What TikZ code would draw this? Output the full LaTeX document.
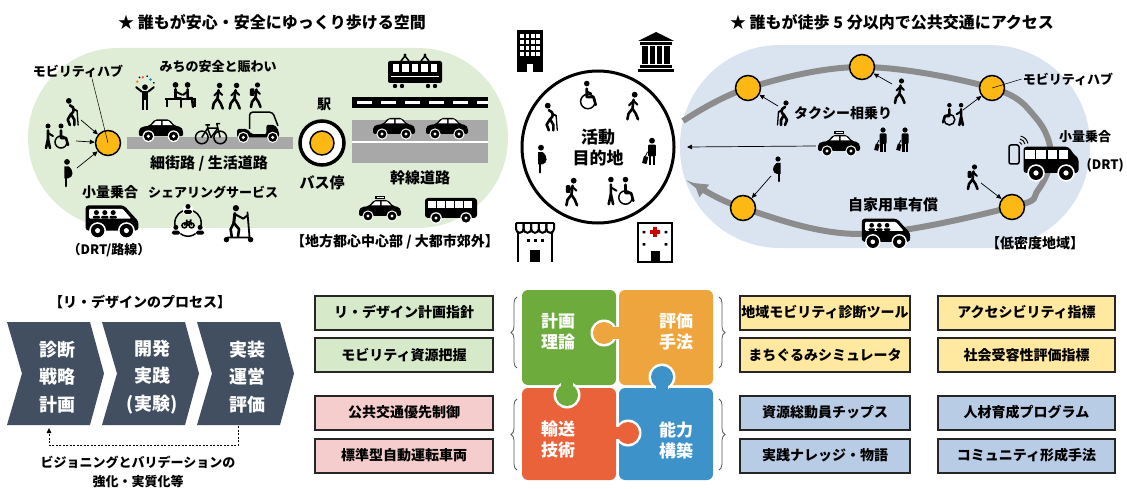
\documentclass[tikz,border=0pt]{standalone}
\usepackage{fontspec}
\setmainfont{Noto Sans CJK JP}
\usepackage{tikz}
\usetikzlibrary{arrows.meta,decorations.pathreplacing,positioning}

\newcommand{\fsz}[1]{\fontsize{#1}{#1}\selectfont}

\definecolor{walkgreen}{HTML}{E0EDD6}
\definecolor{ruralblue}{HTML}{DAE4F1}
\definecolor{roadgray}{HTML}{8C8C8C}
\definecolor{lanegray}{HTML}{A8A8A8}
\definecolor{hubamber}{HTML}{FDB813}
\definecolor{stepslate}{HTML}{424F61}
\definecolor{pzgreen}{HTML}{6CAB3C}
\definecolor{pzorange}{HTML}{EFA53E}
\definecolor{pzred}{HTML}{E9623A}
\definecolor{pzblue}{HTML}{3C92C9}
\definecolor{tagGreen}{HTML}{D6E9C9}
\definecolor{tagPink}{HTML}{F6CDCD}
\definecolor{tagYellow}{HTML}{FFE8A0}
\definecolor{tagBlue}{HTML}{B9CCE6}

\tikzset{
  ink/.style={line width=2.6pt, line cap=round, line join=round},
  lbl/.style={font=\bfseries\fsz{13}, inner sep=1pt},
  hub/.style={circle, draw=black, line width=1.5pt, fill=hubamber, minimum size=25pt, inner sep=0pt},
  hint/.style={-{Triangle[length=5pt,width=4.5pt]}, line width=0.7pt},
  tag/.style={draw=black!85, line width=2pt, minimum height=34pt, inner sep=0pt, font=\bfseries\fsz{14}},
  piece/.style={font=\bfseries\fontsize{17}{21}\selectfont, text=white, align=center},
  % --- pictograms (y grows downwards)
  pics/walker/.style={code={
    \fill (1.5,-11) circle (2.6);
    \draw[ink] (0.5,-6.5) -- (-0.5,1.5) -- (-4,6) -- (-5,11);
    \draw[ink] (-0.5,1.5) -- (2.5,6) -- (4.5,11);
    \draw[ink,line width=2pt] (0.5,-5.5) -- (-3.5,-1.5) (0.5,-5.5) -- (4,-2);
  }},
  pics/backpacker/.style={code={
    \pic {walker};
    \fill[rounded corners=1pt] (-5.5,-7) rectangle (-1.5,0);
  }},
  pics/elder/.style={code={
    \fill (-2,-11) circle (2.6);
    \draw[ink] (-1,-7) .. controls (4,-5) and (3,-1) .. (0,1) -- (-3,6) -- (-1,11);
    \draw[ink] (0,1) -- (3,6) -- (3,11);
    \draw[ink,line width=1.8pt] (1.5,-4) -- (5.5,-2);
    \draw[line width=1.3pt, line cap=round] (5.5,-2) -- (6.5,11);
  }},
  pics/wheelchair/.style={code={
    \fill (-2,-12) circle (2.5);
    \draw[ink] (-2,-7.5) -- (-2,0) -- (4,0) -- (6,7);
    \draw[ink,line width=2pt] (-2,-5) -- (2,-3);
    \draw[line width=1.5pt] (-1,4) circle (6.5);
  }},
  pics/pusher/.style={code={
    \fill (-9,-12) circle (2.5);
    \draw[ink] (-9,-7.5) -- (-9,1) -- (-11,10);
    \draw[ink] (-9,1) -- (-7,10);
    \draw[ink,line width=2pt] (-9,-5) -- (-4,-2);
    \fill (4,-12) circle (2.5);
    \draw[ink] (4,-7.5) -- (4,0) -- (9,0) -- (11,7);
    \draw[line width=1.5pt] (4,4) circle (6);
  }},
  pics/pregnant/.style={code={
    \fill (0,-11) circle (2.6);
    \fill (-2.5,-7) -- (1.5,-7) .. controls (6.5,-3) and (6,3) .. (1,4) -- (-2.5,4) -- cycle;
    \draw[ink] (-1,4) -- (-1,11);
  }},
  pics/traveller/.style={code={
    \fill (0,-11) circle (2.6);
    \fill[rounded corners=1pt] (-3.5,-7.5) rectangle (3.5,3);
    \draw[line width=2.4pt] (-1.7,3) -- (-1.7,11) (1.7,3) -- (1.7,11);
    \fill[rotate around={-15:(-6,6)}] (-8,3) rectangle (-4,9.5);
    \draw[line width=0.8pt] (-4,-1) -- (-6,3);
  }},
  pics/juggler/.style={code={
    \fill (0,-8) circle (2.6);
    \fill (-3,-4.5) rectangle (3,4);
    \draw[line width=2.2pt] (-1.5,4) -- (-1.5,13) (1.5,4) -- (1.5,13);
    \draw[ink,line width=2pt] (-3,-4) -- (-8,-8) (3,-4) -- (8,-8);
    \fill[red!70] (-2,-17) circle (1.2);
    \fill[cyan!70!blue] (5,-15) circle (1.2);
    \fill[orange] (-7,-13) circle (1.2);
    \fill (-5,-17) circle (0.9) (2,-18) circle (0.9) (8,-12) circle (0.9);
  }},
  pics/benchpair/.style={code={
    \fill (-5,-11) circle (2.6) (6,-11) circle (2.6);
    \draw[ink] (-5,-7) -- (-5,1) -- (0,1) -- (0,9);
    \draw[ink] (6,-7) -- (6,1) -- (10,1) -- (11,9);
    \draw[ink,line width=2pt] (-5,-5) -- (1,-2) (6,-5) -- (2,-2);
    \draw[line width=2.2pt] (-15,2) -- (14,2) (-13,2) -- (-13,9) (13,2) -- (13,9);
  }},
  pics/car/.style={code={
    \fill[rounded corners=2pt] (-21,5) -- (-21,-2) -- (-18,-4) -- (-11,-5) -- (-6,-11) -- (8,-11) -- (13,-5) -- (19,-4) -- (21,-1) -- (21,5) -- cycle;
    \fill[white] (-9,-5.5) -- (-5,-9.5) -- (0,-9.5) -- (0,-5.5) -- cycle;
    \fill[white] (1.5,-5.5) -- (1.5,-9.5) -- (7,-9.5) -- (11,-5.5) -- cycle;
    \foreach \u in {-12,12} {\fill[white] (\u,5) circle (5.6); \fill (\u,5) circle (4.4); \fill[white] (\u,5) circle (1.7);}
  }},
  pics/taxi/.style={code={
    \pic {car};
    \fill (-5,-15) rectangle (5,-11.5);
    \fill[white] (-3.5,-13.8) rectangle (3.5,-12.8);
  }},
  pics/minivan/.style={code={
    \fill[rounded corners=3pt] (-22,8) -- (-22,-13) -- (10,-13) -- (19,-3) -- (22,0) -- (22,8) -- cycle;
    \fill[white,rounded corners=1pt] (-19,-10) -- (9,-10) -- (16,-2) -- (-19,-2) -- cycle;
    \foreach \u in {-13,-6,1} {\fill (\u,-7) circle (2.1); \fill[rounded corners=1pt] (\u-3,-4.3) rectangle (\u+3,-2);}
    \foreach \u in {-12,12} {\fill[white] (\u,8) circle (7); \fill (\u,8) circle (5.6); \fill[white] (\u,8) circle (2.1);}
  }},
  pics/drtvan/.style={code={
    \fill[rounded corners=3pt] (-22,8) -- (-22,-13) -- (14,-13) -- (19,-6) -- (22,-4) -- (22,8) -- cycle;
    \foreach \u in {-17,-8,1,10} \fill[white] (\u-3.8,-10) rectangle (\u+3.8,-3);
    \foreach \u in {-12,12} {\fill[white] (\u,8) circle (7); \fill (\u,8) circle (5.6); \fill[white] (\u,8) circle (2.1);}
  }},
  pics/bus/.style={code={
    \fill[rounded corners=3pt] (-26,-12) rectangle (26,8);
    \foreach \c in {-19,-10,-1,8,17} \fill[white] (\c-3.6,-9) rectangle (\c+3.6,-2);
    \foreach \u in {-15,15} {\fill[white] (\u,8) circle (5.8); \fill (\u,8) circle (4.6); \fill[white] (\u,8) circle (1.7);}
  }},
  pics/tram/.style={code={
    \draw[line width=1.5pt, line join=round] (-14,-11) -- (-10,-16) -- (-6,-11) (6,-11) -- (10,-16) -- (14,-11);
    \fill (-10,-17) circle (1.6) (10,-17) circle (1.6);
    \fill[rounded corners=2pt] (-27,-11) rectangle (27,11);
    \foreach \c in {-19,-9.5,0,9.5,19} \fill[white] (\c-3.4,-8) rectangle (\c+3.4,0);
    \fill[white] (-24,4) rectangle (24,5.3);
    \foreach \c in {-20,-13,13,20} \fill (\c,14) circle (2.2);
  }},
  pics/bike/.style={code={
    \draw[line width=1.5pt] (-8,3) circle (5.5) (8,3) circle (5.5);
    \draw[line width=1.5pt, line join=round] (-8,3) -- (-3,-5) -- (6,-5) -- (8,3) (-3,-5) -- (0,3) -- (6,-5) (-5,-8) -- (-1,-8) (-3,-8) -- (-3,-5) (6,-5) -- (5,-9) -- (8,-9);
  }},
  pics/cart/.style={code={
    \draw[line width=1.5pt, rounded corners=3pt] (-8,0) -- (-8,-16) -- (14,-16) -- (19,-3);
    \fill[rounded corners=2pt] (-20,8) -- (-20,0) -- (-10,0) -- (-6,5) -- (8,5) -- (8,-4) -- (16,-4) -- (20,2) -- (20,8) -- cycle;
    \foreach \u in {-14,14} {\fill[white] (\u,8) circle (5.4); \fill (\u,8) circle (4.2); \fill[white] (\u,8) circle (1.6);}
  }},
  pics/scooter/.style={code={
    \fill (-2,-17) circle (3);
    \draw[ink,line width=3pt] (-3,-12) -- (-4,-3);
    \draw[ink] (-4,-3) -- (1,3) -- (0,10) (-4,-3) -- (-7,3) -- (-6,10);
    \draw[ink,line width=2pt] (-2.5,-11) -- (5,-7) -- (9,-10);
    \draw[line width=1.8pt, line cap=round] (9,-13) -- (11,11) (-10,11) -- (11,11);
    \fill (-11,13) circle (2.6) (12,13) circle (2.6);
  }},
  pics/sharering/.style={code={
    \draw[line width=1.5pt] (0,0) circle (12);
    \foreach \p in {(0,-12),(-11,7),(11,7)} {
      \fill[white] \p circle (5);
      \fill \p ++(0,-3) circle (2.3);
      \fill[rounded corners=1.5pt] \p ++(-3.6,0) rectangle ++(7.2,3.6);
    }
    \pic[scale=0.45] at (0,1) {bike};
  }},
  pics/office/.style={code={
    \fill (-13,-21) rectangle (13,21);
    \foreach \r in {-17,-11,-5,1} \foreach \c in {-8,-2.7,2.7,8} \fill[white] (\c-1.8,\r) rectangle (\c+1.8,\r+3.6);
    \fill[white] (-3,13) rectangle (3,21);
  }},
  pics/bank/.style={code={
    \fill (0,-20) -- (18,-11) -- (-18,-11) -- cycle;
    \fill (-16,-10) rectangle (16,-7);
    \foreach \c in {-11,-3.7,3.7,11} \fill (\c-2.6,-6) rectangle (\c+2.6,12);
    \fill (-16,13) rectangle (16,16);
    \fill (-18,17) rectangle (18,20);
  }},
  pics/store/.style={code={
    \draw[line width=2.2pt] (-19,-17) -- (19,-17);
    \foreach \c in {-15.2,-7.6,0,7.6,15.2}
      \draw[line width=2pt] (\c-3.8,-17) -- (\c-3.8,-11) arc[start angle=180, end angle=0, radius=3.8] -- (\c+3.8,-17);
    \draw[line width=2.2pt] (-17,-7) -- (-17,22) (17,-7) -- (17,22);
    \foreach \c in {-7,0,7} \fill (\c-1.5,-1) rectangle (\c+1.5,2);
    \fill (-5,10) rectangle (5,22);
  }},
  pics/hospital/.style={code={
    \draw[line width=2.2pt] (-17,-17) rectangle (17,22);
    \fill[red!80!black] (-1.8,-13) rectangle (1.8,-3) (-5,-9.8) rectangle (5,-6.2);
    \foreach \c in {-11,11} \fill (\c-1.3,-9) rectangle (\c+1.3,-6.5) (\c-1.3,3) rectangle (\c+1.3,5.5);
    \fill (-4.5,11) rectangle (4.5,22);
  }},
  pics/phone/.style={code={
    \draw[line width=1.5pt, rounded corners=2pt] (-5,-9) rectangle (5,10);
    \foreach \r in {3,6,9} \draw[line width=1pt] ([shift={(5,-9)}]-80:\r) arc[start angle=-80, end angle=-10, radius=\r];
  }},
}

\begin{document}
\begin{tikzpicture}[x=1pt,y=-1pt]
\useasboundingbox (0,0) rectangle (1127,489);

% ===== walkable centre area
\fill[walkgreen, rounded corners=90pt] (28,48) rectangle (508,228);
\node[font=\bfseries\fsz{16}] (walkTitle) at (272,22) {★ 誰もが安心・安全にゆっくり歩ける空間};

\fill[lanegray] (127,137) rectangle (293,149);
\node[hub] (hubL) at (108,143) {};
\node[lbl] (hubLlbl) at (78,71) {モビリティハブ};
\draw[line width=0.5pt] ([xshift=14pt]hubLlbl.south) -- (hubL.center);

\coordinate (elderL) at (71,113);
\coordinate (pairL) at (57,138);
\coordinate (motherL) at (67,174);
\pic[scale=1.1] at (elderL) {elder};
\pic at (pairL) {pusher};
\pic[scale=1.1] at (motherL) {pregnant};
\draw[hint] ([shift={(10,7)}]elderL) -- (hubL);
\draw[hint] ([shift={(19,3)}]pairL) -- (hubL);
\draw[hint] ([shift={(10,-6)}]motherL) -- (hubL);

\node[lbl] (streetLife) at (218,67) {みちの安全と賑わい};
\pic[scale=1.1] at (145,96) {juggler};
\pic[scale=1.1] at (181,97) {benchpair};
\pic[scale=1.05] at (218,97) {walker};
\pic[scale=1.05] at (235,97) {walker};
\pic[scale=1.1] at (256,96) {backpacker};
\pic[scale=1.05] at (161,131) {car};
\pic[scale=1.15] at (211,134) {bike};
\pic[scale=1.05] at (258,129) {cart};
\node[font=\bfseries\fsz{15}] (narrowSt) at (209,163) {細街路 / 生活道路};

% bus stop
\node[circle, draw, line width=3.5pt, fill=white, minimum size=44pt] (busStop) at (322,143) {};
\node[hub, minimum size=24pt] (busHub) at (busStop) {};
\node[font=\bfseries\fsz{14}] (station) at (324,104) {駅};
\node[font=\bfseries\fsz{15}] (busLbl) at (322,183) {バス停};

% trunk road
\pic at (415,72) {tram};
\fill (352,97) rectangle (488,108);
\draw[white, line width=3pt, dash pattern=on 15pt off 9pt] (357,102.5) -- (488,102.5);
\fill[lanegray] (352,120) rectangle (488,163);
\draw[white, line width=2pt] (352,142) -- (488,142);
\pic at (394,129) {car};
\pic at (447,129) {car};
\node[font=\bfseries\fsz{15}] (trunkLbl) at (420,178) {幹線道路};
\pic at (380,211) {taxi};
\pic at (451,210) {bus};
\node[font=\bfseries\fsz{14}] (cityLbl) at (395,242) {【地方都心中心部 / 大都市郊外】};

\node[font=\bfseries\fsz{14}] (sharedLbl) at (110,192) {小量乗合};
\pic[scale=1.2] at (112,221) {minivan};
\node[font=\bfseries\fsz{13}] (drtLine) at (109,250) {（DRT/路線）};
\node[font=\bfseries\fsz{13}] (shareLbl) at (213,192) {シェアリングサービス};
\pic[scale=1.1] at (188,223) {sharering};
\pic[scale=1.05] at (238,226) {scooter};

% ===== destination
\node[circle, draw, line width=3pt, minimum size=152pt] (dest) at (598,147) {};
\node[font=\bfseries\fontsize{17}{21}\selectfont, align=center] (destLbl) at (598,148) {活動\\目的地};
\begin{scope}[every pic/.style={scale=1.12}]
\pic at (550,118) {elder};
\pic at (589,97) {wheelchair};
\pic at (633,107) {walker};
\pic at (652,153) {traveller};
\pic at (541,160) {pregnant};
\pic at (572,193) {backpacker};
\pic at (621,193) {pusher};
\end{scope}
\pic at (530,51) {office};
\pic at (656,52) {bank};
\pic at (535,240) {store};
\pic at (655,240) {hospital};

% ===== low density area
\fill[ruralblue, rounded corners=100pt] (680,45) rectangle (1090,248);
\node[font=\bfseries\fsz{16}] (ruralTitle) at (892,22) {★ 誰もが徒歩 5 分以内で公共交通にアクセス};
\draw[roadgray, line width=6pt, -{Triangle[length=13pt,width=15pt]}]
  plot[smooth, tension=0.6] coordinates {(683,121) (748,88) (862,67) (992,88) (1036,118) (1051,155) (1038,190) (1012,207) (860,234) (743,208) (694,183)};
\node[hub] (hubR1) at (748,88) {};
\node[hub] (hubR2) at (862,67) {};
\node[hub] (hubR3) at (992,88) {};
\node[hub] (hubR4) at (1012,207) {};
\node[hub] (hubR5) at (743,208) {};

\coordinate (elderR) at (784,114);
\coordinate (walkerR) at (900,92);
\coordinate (pairR) at (953,116);
\coordinate (motherR) at (778,170);
\coordinate (hikerR) at (973,178);
\pic[xscale=-1] at (elderR) {elder};
\pic at (walkerR) {walker};
\pic[xscale=-0.9, yscale=0.9] at (pairR) {pusher};
\pic[xscale=-1] at (motherR) {pregnant};
\pic at (hikerR) {backpacker};
\draw[hint] ([shift={(-6,-8)}]elderR) -- (hubR1);
\draw[hint] ([shift={(-8,-8)}]walkerR) -- (hubR2);
\draw[hint] ([shift={(10,-6)}]pairR) -- (hubR3);
\draw[hint] ([shift={(-7,6)}]motherR) -- (hubR5);
\draw[hint] ([shift={(8,5)}]hikerR) -- (hubR4);

\node[lbl] (hubRlbl) at (1068,79) {モビリティハブ};
\draw[line width=0.5pt] (hubR3.center) -- (hubRlbl.west);

\node[font=\bfseries\fsz{14}] (rideShare) at (843,113) {タクシー相乗り};
\node[inner sep=0pt, minimum width=46pt, minimum height=26pt] (taxiR) at (839,146) {};
\pic at (taxiR) {taxi};
\pic at (883,141) {traveller};
\pic at (905,141) {traveller};
\coordinate (destIn) at (687,147);
\draw[hint] (taxiR.west) -- (destIn);

\node[font=\bfseries\fsz{13}] (sharedR) at (1085,137) {小量乗合};
\pic at (1014,154) {phone};
\pic[scale=1.25] at (1051,163) {drtvan};
\node[font=\bfseries\fsz{13}, anchor=east, inner sep=0pt] (drtR) at (1124,165) {(DRT)};
\node[font=\bfseries\fsz{15}] (paidCar) at (893,205) {自家用車有償};
\pic[scale=1.1] at (886,233) {minivan};
\node[font=\bfseries\fsz{14}] (ruralLbl) at (1035,243) {【低密度地域】};

% ===== re-design process
\node[font=\bfseries\fsz{14}] (procTitle) at (140,302) {【リ・デザインのプロセス】};
\foreach \i/\txt in {0/{診断\\戦略\\計画}, 1/{開発\\実践\\(実験)}, 2/{実装\\運営\\評価}} {
  \fill[stepslate] (7+95*\i,322) -- (90+95*\i,322) -- (104+95*\i,373.5) -- (90+95*\i,425) -- (7+95*\i,425) -- (22+95*\i,373.5) -- cycle;
  \node[font=\bfseries\fontsize{18}{27.5}\selectfont, text=white, align=center] (step\i) at (57+95*\i,377) {\txt};
}
\coordinate (fbFrom) at (238,426);
\coordinate (fbTo) at (49,428);
\draw[line width=0.8pt, dash pattern=on 2pt off 1.5pt, -{Triangle[length=5pt,width=4.5pt]}] (fbFrom) -- ++(0,19) -| (fbTo);
\node[font=\bfseries\fontsize{13}{19}\selectfont, align=center] (fbLbl) at (138,472) {ビジョニングとバリデーションの\\強化・実質化等};

% ===== puzzle
\fill[pzgreen, rounded corners=6pt] (522,290) rectangle (616,385);
\fill[pzorange, rounded corners=6pt] (619,290) rectangle (713,385);
\fill[pzred, rounded corners=6pt] (522,388) rectangle (616,480);
\fill[pzblue, rounded corners=6pt] (619,388) rectangle (713,480);
\fill[white] (567,395) circle (13.5); \fill[pzgreen] (567,395) circle (11); \fill[pzgreen] (561,378) rectangle (573,392);
\fill[white] (604,333) circle (13.5); \fill[pzorange] (604,333) circle (11); \fill[pzorange] (608,327) rectangle (625,339);
\fill[white] (662,377) circle (13.5); \fill[pzblue] (662,377) circle (11); \fill[pzblue] (656,381) rectangle (668,395);
\fill[white] (628,433) circle (13.5); \fill[pzred] (628,433) circle (11); \fill[pzred] (610,427) rectangle (624,439);
\node[piece] (plan) at (558,332) {計画\\理論};
\node[piece] (eval) at (676,332) {評価\\手法};
\node[piece] (tech) at (558,440) {輸送\\技術};
\node[piece] (skill) at (676,440) {能力\\構築};

% tool boxes
\node[tag, fill=tagGreen, minimum width=178pt] (tagA) at (404,312.5) {リ・デザイン計画指針};
\node[tag, fill=tagGreen, minimum width=178pt] (tagB) at (404,355) {モビリティ資源把握};
\node[tag, fill=tagPink, minimum width=178pt] (tagC) at (404,412.5) {公共交通優先制御};
\node[tag, fill=tagPink, minimum width=178pt] (tagD) at (404,455.5) {標準型自動運転車両};
\node[tag, fill=tagYellow, minimum width=170pt] (tagE) at (825,312.5) {地域モビリティ診断ツール};
\node[tag, fill=tagYellow, minimum width=170pt] (tagF) at (825,355) {まちぐるみシミュレータ};
\node[tag, fill=tagYellow, minimum width=177pt] (tagG) at (1026.5,312.5) {アクセシビリティ指標};
\node[tag, fill=tagYellow, minimum width=177pt] (tagH) at (1026.5,355) {社会受容性評価指標};
\node[tag, fill=tagBlue, minimum width=170pt] (tagI) at (825,412.5) {資源総動員チップス};
\node[tag, fill=tagBlue, minimum width=170pt] (tagJ) at (825,455.5) {実践ナレッジ・物語};
\node[tag, fill=tagBlue, minimum width=177pt] (tagK) at (1026.5,412.5) {人材育成プログラム};
\node[tag, fill=tagBlue, minimum width=177pt] (tagL) at (1026.5,455.5) {コミュニティ形成手法};

\draw[decorate, decoration={brace, amplitude=6pt}, line width=0.8pt, black!65] (517,368) -- (517,297);
\draw[decorate, decoration={brace, amplitude=6pt}, line width=0.8pt, black!65] (517,470) -- (517,399);
\draw[decorate, decoration={brace, amplitude=6pt}, line width=0.8pt, black!65] (719,297) -- (719,368);
\draw[decorate, decoration={brace, amplitude=6pt}, line width=0.8pt, black!65] (719,399) -- (719,470);
\end{tikzpicture}
\end{document}
